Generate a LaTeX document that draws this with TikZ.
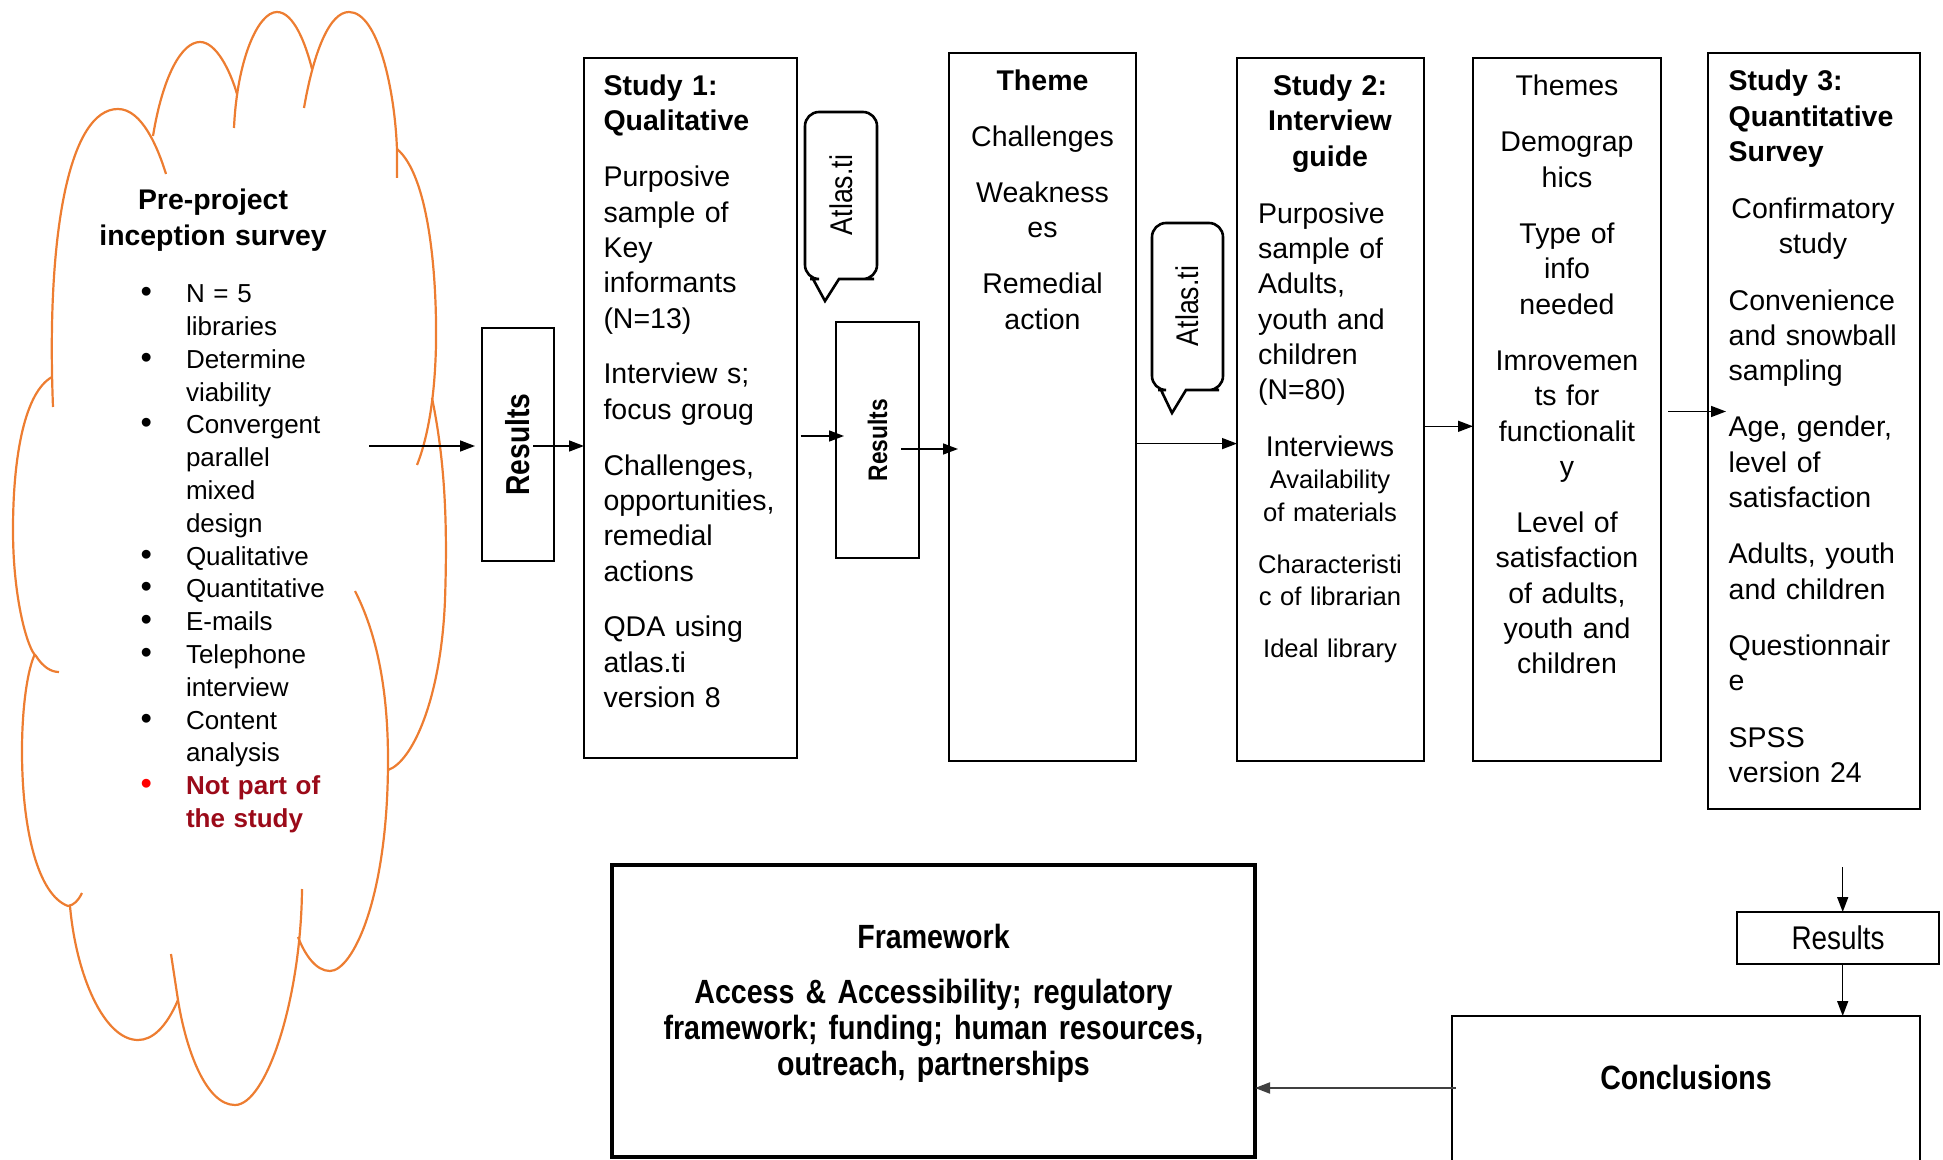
\documentclass[tikz,border=0pt]{standalone}
\usepackage{fontspec}
\setmainfont{Liberation Sans}
\newfontfamily\narrowfont[FakeStretch=0.85]{Liberation Sans}
\usetikzlibrary{arrows.meta,fit,calc}
\definecolor{cloudorange}{HTML}{ED7D31}
\definecolor{notred}{RGB}{155,10,25}
\newcommand\mainsz{\fontsize{14.25}{17.65}\selectfont}
\newcommand\smallsz{\fontsize{12.8}{16.1}\selectfont}
\newcommand\cloudsz{\fontsize{13}{16.4}\selectfont}
\newcommand\bul{\leavevmode\llap{\scalebox{1.25}{\textbullet}\hspace{17pt}}}
\newcommand\rbul{\leavevmode\llap{\scalebox{1.25}{\color{red}\textbullet}\hspace{17pt}}}
\begin{document}
\begin{tikzpicture}[x=0.5pt,y=-0.5pt,
  boxst/.style={draw=black, line width=1.3pt, inner sep=0pt, outer sep=0pt},
  txt/.style={inner sep=0pt, outer sep=0pt, font=\mainsz},
  txtl/.style={txt, anchor=base west, align=left},
  txtc/.style={txt, anchor=base, align=center},
  narrowb/.style={inner sep=0pt, font={\narrowfont\bfseries\fontsize{#1}{#1}\selectfont}},
  narrowr/.style={inner sep=0pt, font={\narrowfont\fontsize{#1}{#1}\selectfont}},
  calloutst/.style={draw=black, line width=1.3pt},
  arr/.style={-{Triangle[length=7.5pt,width=5.5pt]}, line width=0.75pt},
  lobe/.style={draw=cloudorange, line width=1.1pt}]
\useasboundingbox (0,0) rectangle (1943,1160);
\clip (0,0) rectangle (1943,1160);

% ---------- cloud ----------
\draw[lobe] (53,407) .. controls (46,230) and (70,109) .. (118,109) .. controls (142,109) and (158,148) .. (166,174);
\draw[lobe] (153,136) .. controls (163,75) and (182,42) .. (200,42) .. controls (216,42) and (230,70) .. (237,94);
\draw[lobe] (234,128) .. controls (237,60) and (258,12) .. (277,12) .. controls (294,12) and (306,45) .. (312,69);
\draw[lobe] (304,108) .. controls (314,50) and (330,12) .. (349,12) .. controls (378,12) and (395,90) .. (397,150) -- (397,178);
\draw[lobe] (397,149) .. controls (428,175) and (437,270) .. (436,344) .. controls (435,400) and (427,440) .. (417,465);
\draw[lobe] (432,398) .. controls (447,470) and (447,540) .. (445,600) .. controls (441,700) and (412,762) .. (388,770);
\draw[lobe] (355,591) .. controls (380,640) and (388,700) .. (388,760) .. controls (388,900) and (352,971) .. (330,971) .. controls (316,971) and (305,955) .. (298,937);
\draw[lobe] (302,889) .. controls (301,1000) and (266,1105) .. (235,1105) .. controls (206,1105) and (186,1050) .. (178,1000) -- (171,954);
\draw[lobe] (178,1000) .. controls (166,1028) and (152,1040) .. (138,1040) .. controls (104,1040) and (76,975) .. (70,906);
\draw[lobe] (82,893) .. controls (78,901) and (74,905) .. (68,906) .. controls (38,895) and (22,830) .. (22,751) .. controls (22,705) and (28,668) .. (35,654);
\draw[lobe] (52,377) .. controls (25,392) and (13,455) .. (13,530) .. controls (13,600) and (28,650) .. (36,656) .. controls (43,667) and (51,672) .. (59,672);

\node[txtc, text width=140pt, font=\fontsize{14.2}{18}\selectfont\bfseries] (ctitle) at (213,209.7) {Pre-project\\inception survey};
\node[txtl, text width=90pt, font=\cloudsz] (clist) at (186,302.7) {\bul N = 5\\libraries\\\bul Determine\\viability\\\bul Convergent\\parallel\\mixed\\design\\\bul Qualitative\\\bul Quantitative\\\bul E-mails\\\bul Telephone\\interview\\\bul Content\\analysis\\\rbul{\color{notred}\bfseries Not part of}\\{\color{notred}\bfseries the study}};

% ---------- boxes ----------
\node[boxst, fit={(482,328) (554,561)}] (r1) {};
\node[boxst, fit={(584,58) (797,758)}] (s1) {};
\node[boxst, fit={(836,322) (919,558)}] (r2) {};
\node[boxst, fit={(949,53) (1136,761)}] (th) {};
\node[boxst, fit={(1237,58) (1424,761)}] (s2) {};
\node[boxst, fit={(1473,58) (1661,761)}] (ts) {};
\node[boxst, fit={(1708,53) (1920,809)}] (s3) {};
\node[boxst, fit={(1737,912) (1939,964)}] (r3) {};
\node[boxst, fit={(1452,1016) (1920,1175)}] (cc) {};
\node[boxst, line width=1.8pt, fit={(612,865) (1255,1157)}] (fw) {};

% ---------- callouts ----------
\draw[calloutst] (825,301) -- (813,279) -- (810,279) [rounded corners=7pt] -- (805,279) -- (805,112) -- (877,112) -- (877,279) -- (860,279) [sharp corners] -- (839,279) -- cycle;
\draw[calloutst] (1172,413) -- (1161,390) -- (1158,390) [rounded corners=7pt] -- (1152,390) -- (1152,223) -- (1223,223) -- (1223,390) -- (1205,390) [sharp corners] -- (1186,390) -- cycle;
\node[narrowr=15.7, rotate=90] (at1) at (841,195) {Atlas.ti};
\node[narrowr=15.7, rotate=90] (at2) at (1187,306) {Atlas.ti};

% ---------- texts ----------
\node[narrowb=16.6, rotate=90] (r1t) at (r1.center) {Results};
\node[narrowb=13.4, rotate=90] (r2t) at (r2.center) {Results};
\node[narrowr=16.4] (r3t) at (r3.center) {Results};
\node[narrowb=16.8] (cct) at (1686,1077) {Conclusions};
\node[txtc, text width=320pt, font={\narrowfont\bfseries\fontsize{16.8}{18}\selectfont}] (fwt) at (933.5,948) {Framework\\[9.9pt]Access \& Accessibility; regulatory\\framework; funding; human resources,\\outreach, partnerships};

\node[txtl, text width=100pt] (s1t) at (603.5,95.7) {\textbf{Study 1:}\\\textbf{Qualitative}\\[10.3pt]Purposive\\sample of\\Key\\informants\\(N=13)\\[10.3pt]Interview s;\\focus groug\\[10.3pt]Challenges,\\opportunities,\\remedial\\actions\\[10.3pt]QDA using\\atlas.ti\\version 8};

\node[txtc, text width=90pt] (tht) at (1042.5,90.8) {\textbf{Theme}\\[10.3pt]Challenges\\[10.3pt]Weakness\\es\\[10.3pt]Remedial\\action};

\node[txtc, text width=90pt, font=\mainsz\bfseries] (s2t) at (1330,95.7) {Study 2:\\Interview\\guide};
\node[txtl, text width=85pt] (s2a) at (1258,223.4) {Purposive\\sample of\\Adults,\\youth and\\children\\(N=80)};
\node[txtc, text width=90pt] (s2b) at (1330,456.4) {Interviews};
\node[txtc, text width=90pt, font=\smallsz] (s2c) at (1330,488.8) {Availability\\of materials\\[9.9pt]Characteristi\\c of librarian\\[9.9pt]Ideal library};

\node[txtc, text width=92pt] (tst) at (1567,95.7) {Themes\\[10.5pt]Demograp\\hics\\[10.5pt]Type of\\info\\needed\\[10.5pt]Imrovemen\\ts for\\functionalit\\y\\[10.5pt]Level of\\satisfaction\\of adults,\\youth and\\children};

\node[txtl, text width=95pt, font=\mainsz\bfseries] (s3t) at (1728.7,90.8) {Study 3:\\Quantitative\\Survey};
\node[txtc, text width=100pt] (s3a) at (1813,218.4) {Confirmatory\\study};
\node[txtl, text width=95pt] (s3b) at (1728.7,310.1) {Convenience\\and snowball\\sampling\\[10.5pt]Age, gender,\\level of\\satisfaction\\[10.5pt]Adults, youth\\and children\\[10.5pt]Questionnair\\e\\[10.5pt]SPSS\\version 24};

% ---------- arrows ----------
\coordinate (a1s) at (369,446);
\coordinate (a2s) at (533,446);
\coordinate (a3s) at (800.5,436);
\coordinate (a4s) at (901,449);
\coordinate (a5s) at (1136,443.6);
\coordinate (a6s) at (1424,426.3);
\coordinate (a7s) at (1668,411.5);
\coordinate (a8s) at (1842.7,867);
\coordinate (a10s) at (1456,1088);
\draw[arr] (a1s) -- ($(r1.west |- a1s)+(-7,0)$);
\draw[arr] (a2s) -- (s1.west |- a2s);
\draw[arr] (a3s) -- ($(r2.west |- a3s)+(8,0)$);
\draw[arr] (a4s) -- ($(th.west |- a4s)+(9,0)$);
\draw[arr] (a5s) -- (s2.west |- a5s);
\draw[arr] (a6s) -- (ts.west |- a6s);
\draw[arr] (a7s) -- ($(s3.west |- a7s)+(18,0)$);
\draw[arr] (a8s) -- (a8s |- r3.north);
\draw[arr] (a8s |- r3.south) -- (a8s |- cc.north);
\draw[arr, line width=1pt, draw=black!75] (a10s) -- (fw.east |- a10s);
\end{tikzpicture}
\end{document}
